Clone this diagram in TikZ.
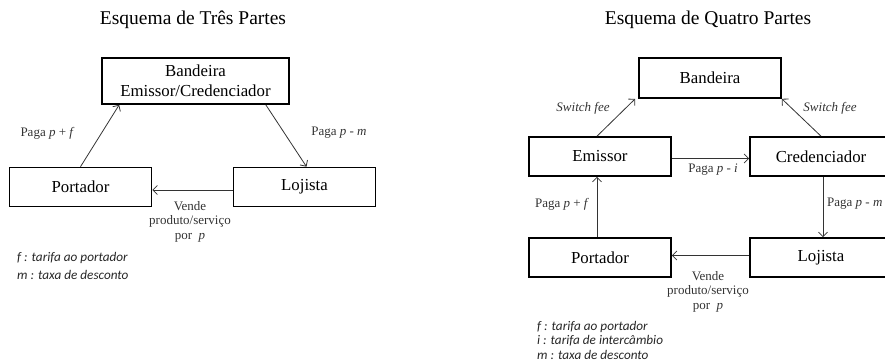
\documentclass[tikz,border=0pt]{standalone}
\usepackage{fontspec}
\setmainfont{Liberation Serif}
\newfontfamily\legendfont{Carlito}
\usetikzlibrary{arrows.meta}

\begin{document}
\begin{tikzpicture}
[x=1pt,y=-1pt,%
  partyBox/.style={draw,line width=1.6pt,minimum width=142pt,minimum height=39pt,inner sep=0pt,%
    font=\fontsize{16.8}{20}\selectfont},%
  flowLine/.style={-{Straight Barb[length=4.5pt,width=9pt]},line width=0.8pt,color=black!80},%
  flowLabel/.style={font=\fontsize{13}{14.5}\selectfont,text=black!80,align=center,inner sep=0pt},%
  titleText/.style={font=\fontsize{19.5}{23}\selectfont,inner sep=0pt},%
  legendText/.style={font=\legendfont\itshape\fontsize{13.2}{14}\selectfont,text=black!85,anchor=west,inner sep=0pt}]
\path[use as bounding box,clip] (0,0) rectangle (885,361);

%% esquema de tres partes
\node[titleText] (title3) at (193,20) {Esquema de Três Partes};
\node[partyBox,minimum width=187pt,minimum height=46pt,align=center] (band3) at (195.5,81)
  {Bandeira\\Emissor/Credenciador};
\node[partyBox] (port3) at (80.5,187) {Portador};
\node[partyBox] (loj3) at (304.5,187) {Lojista};
\draw[flowLine] (port3.north) -- ([xshift=18pt]band3.south west);
\draw[flowLine] ([xshift=-24pt]band3.south east) -- ([xshift=2pt]loj3.north);
\draw[flowLine] ([yshift=-3pt]loj3.west) -- ([yshift=-3pt]port3.east);
\node[flowLabel] (pagaA3) at (47.5,133) {Paga \textit{p} + \textit{f}};
\node[flowLabel] (pagaB3) at (339,133) {Paga \textit{p} - \textit{m}};
\node[flowLabel,anchor=north] (vende3) at (190,201) {Vende\\produto/serviço\\por~ \textit{p}};
\foreach \y/\txt [count=\i] in {258/{f : tarifa ao portador}, 275/{m : taxa de desconto}}
{
  \node[legendText] (leg3\i) at (17,\y) {\txt};
}

%% esquema de quatro partes
\node[titleText] (title4) at (708,20) {Esquema de Quatro Partes};
\node[partyBox,minimum height=40pt] (band4) at (710,78) {Bandeira};
\node[partyBox] (emis4) at (600,156.5) {Emissor};
\node[partyBox] (cred4) at (821,156.5) {Credenciador};
\node[partyBox] (port4) at (600,257.5) {Portador};
\node[partyBox] (loj4) at (821,257.5) {Lojista};
\draw[flowLine] ([xshift=-3pt]emis4.north) -- ([xshift=-3pt]band4.south west);
\draw[flowLine] (cred4.north) -- (band4.south east);
\draw[flowLine] ([yshift=-2pt]emis4.east) -- ([yshift=-2pt]cred4.west);
\draw[flowLine] ([xshift=2pt]cred4.south) -- ([xshift=2pt]loj4.north);
\draw[flowLine] ([xshift=-3pt]port4.north) -- ([xshift=-3pt]emis4.south);
\draw[flowLine] ([yshift=2pt]loj4.west) -- ([yshift=2pt]port4.east);
\node[flowLabel] (feeA4) at (583,108) {\textit{Switch fee}};
\node[flowLabel] (feeB4) at (830,108) {\textit{Switch fee}};
\node[flowLabel] (pagaI4) at (713,170) {Paga \textit{p} - \textit{i}};
\node[flowLabel] (pagaF4) at (562,204) {Paga \textit{p} + \textit{f}};
\node[flowLabel,anchor=west] (pagaM4) at (827,204) {Paga \textit{p} - \textit{m}};
\node[flowLabel,anchor=north] (vende4) at (708,271) {Vende\\produto/serviço\\por~ \textit{p}};
\foreach \y/\txt [count=\i] in {327/{f : tarifa ao portador}, 341/{i : tarifa de intercâmbio}, 354.5/{m : taxa de desconto}}
{
  \node[legendText] (leg4\i) at (537,\y) {\txt};
}
\end{tikzpicture}
\end{document}
